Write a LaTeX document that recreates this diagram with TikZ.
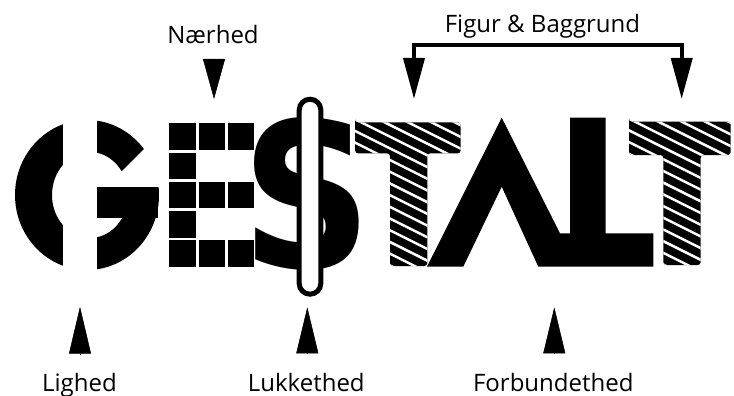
\documentclass[tikz,border=0pt]{standalone}
\usepackage{fontspec}
\setmainfont{Open Sans}
\newfontfamily\letterfont{DejaVu Sans}
\usetikzlibrary{arrows.meta}

\tikzset{
  tekst/.style={font=\fontsize{24}{28}\selectfont, anchor=base, inner sep=0pt},
  pil/.style={-{Triangle[length=#1,width=22pt]}, line width=0.5pt},
  pil/.default=40pt,
  klamme/.style={line width=4pt, {Triangle[length=41pt,width=21pt]}-{Triangle[length=41pt,width=21pt]}},
  streg/.style={white, line width=2.5pt}
}

\begin{document}
\begin{tikzpicture}[x=1pt,y=-1pt]
  \useasboundingbox (0,0) rectangle (734,396);

  % G
  \fill[even odd rule] (87,195) ellipse [x radius=72, y radius=75]
                       (90,195) ellipse [x radius=38, y radius=43];
  \fill[white] (63,110) rectangle (97,280);
  \fill[white] (122,171) -- (147,146) -- (170,146) -- (170,187) -- (105,187) -- (105,175) -- cycle;
  \fill (97,187) rectangle (158,218);

  % E
  \foreach \c/\r in {0/0,1/0,2/0,0/1,0/2,1/2,2/2,0/3,0/4,1/4,2/4}
    \fill (169.3+29.2*\c,123.3+29.2*\r) rectangle ++(26.7,26.7);

  % $
  \node[inner sep=0pt] (S) at (307,194) {\scalebox{0.9}[1]{\letterfont\bfseries\fontsize{202}{202}\selectfont S}};
  \draw[line width=5pt, fill=white, rounded corners=10.8pt] (299.2,99.2) rectangle (320.8,294.2);

  % T
  \begin{scope}
    \clip[rounded corners=3pt] (355,122.3) -| (460.7,153.3) -| (427.3,266) -| (390,153.3) -| (355,122.3) -- cycle;
    \fill (340,100) rectangle (480,280);
    \foreach \k in {-8,...,16}
      \draw[streg] (340,100+11.7*\k) -- ++(160,80);
  \end{scope}

  % A og L
  \fill (427,266.7) -- (501.7,117.7) -- (560,233.3) -- (570,233.3) -- (570,117.7) -- (605.7,117.7)
        -- (605.7,233.3) -- (653.3,233.3) -- (653.3,266.7) -- (538.3,266.7) -- (501.7,186.7)
        -- (463.3,266.7) -- cycle;

  % T
  \begin{scope}
    \clip[rounded corners=3pt] (629,121.7) -| (730.7,155) -| (700.7,265) -| (663.3,155) -| (629,121.7) -- cycle;
    \fill (615,100) rectangle (740,280);
    \foreach \k in {-8,...,16}
      \draw[streg] (615,100+11.7*\k) -- ++(160,80);
  \end{scope}

  \node[tekst] (naerhed) at (213,43.3) {Nærhed};
  \node[tekst] (figur) at (542.5,32.3) {Figur \& Baggrund};
  \node[tekst] (lighed) at (79.5,391.5) {Lighed};
  \node[tekst] (lukkethed) at (306.3,391) {Lukkethed};
  \node[tekst] (forbundethed) at (553.3,391) {Forbundethed};

  \coordinate (n1) at (214,59);
  \coordinate (n2) at (214,99);
  \coordinate (l1) at (80,354);
  \coordinate (l2) at (80,306.7);
  \coordinate (u1) at (307.3,353.3);
  \coordinate (u2) at (307.3,307.3);
  \coordinate (f1) at (554.3,353.3);
  \coordinate (f2) at (554.3,307.3);
  \coordinate (bv) at (414,99);
  \coordinate (bh) at (681.7,99);

  \draw[pil] (n1) -- (n2);
  \draw[pil=47pt] (l1) -- (l2);
  \draw[pil=46pt] (u1) -- (u2);
  \draw[pil=46pt] (f1) -- (f2);
  \draw[klamme] (bv) -- ++(0,-54.3) -| (bh);
\end{tikzpicture}
\end{document}
